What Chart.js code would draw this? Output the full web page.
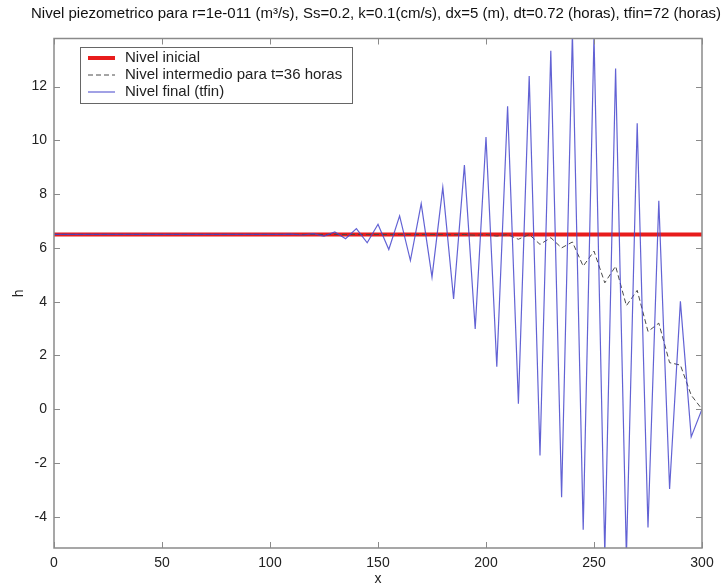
<!DOCTYPE html>
<html>
<head>
<meta charset="utf-8">
<script src="https://cdn.jsdelivr.net/npm/chart.js@4.4.0/dist/chart.umd.min.js"></script>
<style>
  html, body { margin: 0; padding: 0; background: #fff; }
</style>
</head>
<body>
<canvas id="chart" width="726" height="586"></canvas>
<script>
// posiciones x (dx = 5 m)
const xs = [0,5,10,15,20,25,30,35,40,45,50,55,60,65,70,75,80,85,90,95,
  100,105,110,115,120,125,130,135,140,145,150,155,160,165,170,175,180,185,190,195,
  200,205,210,215,220,225,230,235,240,245,250,255,260,265,270,275,280,285,290,295,300];

const hInicial = [6.5,6.5,6.5,6.5,6.5,6.5,6.5,6.5,6.5,6.5,6.5,6.5,6.5,6.5,6.5,6.5,6.5,6.5,6.5,6.5,
  6.5,6.5,6.5,6.5,6.5,6.5,6.5,6.5,6.5,6.5,6.5,6.5,6.5,6.5,6.5,6.5,6.5,6.5,6.5,6.5,
  6.5,6.5,6.5,6.5,6.5,6.5,6.5,6.5,6.5,6.5,6.5,6.5,6.5,6.5,6.5,6.5,6.5,6.5,6.5,6.5,6.5];

const hIntermedio = [6.5,6.5,6.5,6.5,6.5,6.5,6.5,6.5,6.5,6.5,6.5,6.5,6.5,6.5,6.5,6.5,6.5,6.5,6.5,6.5,
  6.5,6.5,6.5,6.5,6.5,6.5,6.5,6.5,6.5,6.5,6.5,6.5,6.5,6.5,6.5,6.5,6.5,6.49,6.5,6.47,
  6.5,6.44,6.5,6.32,6.5,6.13,6.38,6.0,6.22,5.32,5.88,4.7,5.32,3.85,4.42,2.89,3.2,1.73,1.64,0.52,0];

const hFinal = [6.5,6.5,6.5,6.5,6.5,6.5,6.5,6.5,6.5,6.5,6.5,6.5,6.5,6.5,6.5,6.5,6.5,6.5,6.5,6.5,
  6.5,6.5,6.51,6.48,6.53,6.44,6.59,6.34,6.72,6.19,6.88,5.94,7.19,5.53,7.65,4.91,8.25,4.1,9.08,2.98,
  10.12,1.58,11.27,0.2,12.39,-1.72,13.33,-3.28,14.0,-4.49,13.9,-5.4,12.67,-5.5,10.64,-4.4,7.75,-2.97,4.01,-1.03,0];

const xTicks = [0,50,100,150,200,250,300];
const yTicks = [-4,-2,0,2,4,6,8,10,12];

const titulo = 'Nivel piezometrico para r=1e-011 (m\u00b3/s), Ss=0.2, k=0.1(cm/s), dx=5 (m), dt=0.72 (horas), tfin=72 (horas)';

const FONT = 'Liberation Sans, Arial, sans-serif';

function pts(vals) {
  return xs.map((x, i) => ({ x: x, y: vals[i] }));
}

// caja, marcas hacia dentro, titulo y leyenda estilo matlab
const matlabBox = {
  id: 'matlabBox',
  afterDatasetsDraw(chart) {
    const { ctx, chartArea: a, scales } = chart;
    const sx = scales.x, sy = scales.y;
    ctx.save();
    ctx.strokeStyle = '#8a8a8a';
    ctx.lineWidth = 1;
    ctx.beginPath();
    sx.ticks.forEach(t => {
      const px = Math.round(sx.getPixelForValue(t.value)) + 0.5;
      ctx.moveTo(px, a.bottom); ctx.lineTo(px, a.bottom - 6);
      ctx.moveTo(px, a.top); ctx.lineTo(px, a.top + 6);
    });
    sy.ticks.forEach(t => {
      const py = Math.round(sy.getPixelForValue(t.value)) + 0.5;
      ctx.moveTo(a.left, py); ctx.lineTo(a.left + 6, py);
      ctx.moveTo(a.right, py); ctx.lineTo(a.right - 6, py);
    });
    ctx.stroke();
    ctx.lineWidth = 1.5;
    ctx.strokeRect(a.left, a.top, a.right - a.left, a.bottom - a.top);

    // titulo
    ctx.fillStyle = '#111';
    ctx.font = '15px ' + FONT;
    ctx.textAlign = 'center';
    ctx.textBaseline = 'middle';
    ctx.fillText(titulo, 376, 14);

    // leyenda
    const lx = 80, ly = 47, lw = 272, lh = 56;
    ctx.fillStyle = '#fff';
    ctx.fillRect(lx, ly, lw, lh);
    ctx.strokeStyle = '#666';
    ctx.lineWidth = 1;
    ctx.strokeRect(lx + 0.5, ly + 0.5, lw, lh);
    ctx.textAlign = 'left';
    chart.data.datasets.forEach((ds, i) => {
      const yy = ly + 11 + i * 17;
      ctx.strokeStyle = ds.borderColor;
      ctx.lineWidth = ds.borderWidth;
      ctx.setLineDash(ds.borderDash || []);
      ctx.beginPath();
      ctx.moveTo(lx + 8, yy); ctx.lineTo(lx + 35, yy);
      ctx.stroke();
      ctx.setLineDash([]);
      ctx.fillStyle = '#222';
      ctx.fillText(ds.label, lx + 45, yy);
    });
    ctx.restore();
  }
};

new Chart(document.getElementById('chart'), {
  type: 'line',
  data: {
    datasets: [
      { label: 'Nivel inicial', data: pts(hInicial), borderColor: '#e81c1c', borderWidth: 4, order: 3 },
      { label: 'Nivel intermedio para t=36 horas', data: pts(hIntermedio), borderColor: '#4a4a4a', borderWidth: 1, borderDash: [5, 3], order: 2 },
      { label: 'Nivel final (tfin)', data: pts(hFinal), borderColor: 'rgba(70,70,205,0.85)', borderWidth: 1.2, order: 1 }
    ]
  },
  options: {
    responsive: false,
    animation: false,
    layout: { padding: { left: 0, right: 24, top: 38.5, bottom: 0 } },
    elements: { point: { radius: 0 }, line: { tension: 0 } },
    plugins: {
      legend: { display: false },
      tooltip: { enabled: false },
      title: { display: false }
    },
    scales: {
      x: {
        type: 'linear',
        min: 0, max: 300,
        afterBuildTicks: s => { s.ticks = xTicks.map(v => ({ value: v })); },
        afterFit: s => { s.height = 38; },
        grid: { display: false, drawTicks: false },
        border: { display: false },
        ticks: { color: '#222', font: { family: FONT, size: 14 }, padding: 7, maxRotation: 0 },
        title: { display: true, text: 'x', color: '#222', font: { family: FONT, size: 14 }, padding: { top: 0, bottom: -2 } }
      },
      y: {
        min: -5.165, max: 13.79,
        afterBuildTicks: s => { s.ticks = yTicks.map(v => ({ value: v })); },
        afterFit: s => { s.width = 54; },
        grid: { display: false, drawTicks: false },
        border: { display: false },
        ticks: { color: '#222', font: { family: FONT, size: 14 }, padding: 7 },
        title: { display: true, text: 'h', color: '#222', font: { family: FONT, size: 14 }, padding: { top: 11, bottom: 0 } }
      }
    }
  },
  plugins: [matlabBox]
});
</script>
</body>
</html>
